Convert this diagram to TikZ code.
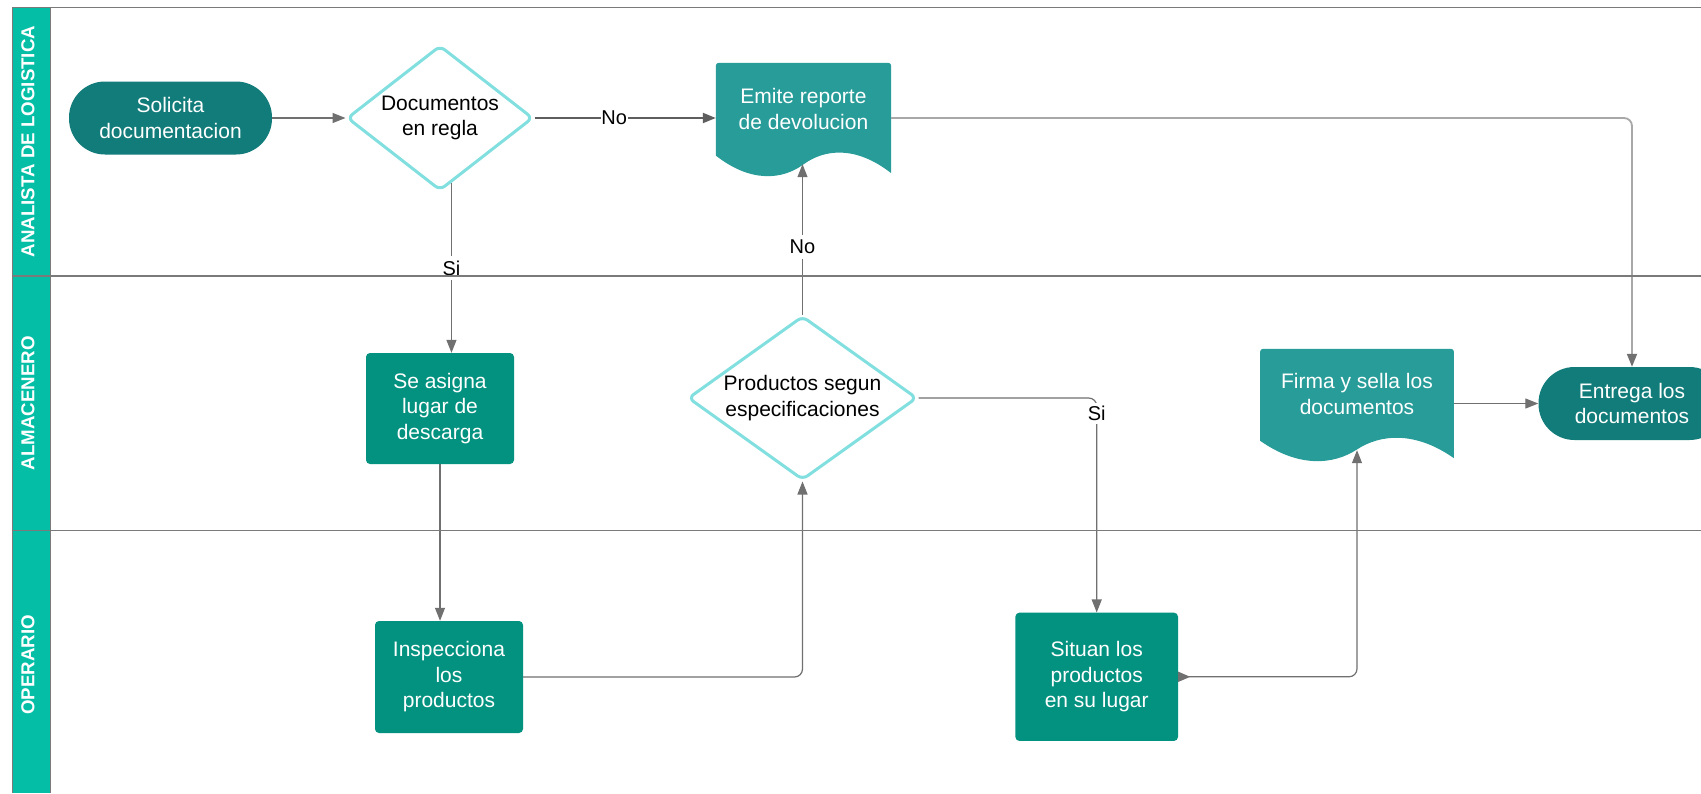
\documentclass[tikz,border=0pt]{standalone}
\usepackage{fontspec}
\setmainfont{Liberation Sans}
\newfontfamily\headfont{Liberation Sans Bold}
\usetikzlibrary{shapes.geometric,arrows.meta,calc}
\definecolor{lanehead}{HTML}{04BFA6}
\definecolor{termfill}{HTML}{117C79}
\definecolor{docfill}{HTML}{289C99}
\definecolor{procfill}{HTML}{049280}
\definecolor{decborder}{HTML}{82DFE0}
\definecolor{linegray}{HTML}{707070}
\definecolor{darkline}{HTML}{5E5E5E}
\definecolor{lightline}{HTML}{A8A8A8}
\definecolor{lanegray}{HTML}{7A7A7A}
\pgfdeclarelayer{bg}
\pgfdeclarelayer{fg}
\pgfsetlayers{bg,main,fg}
\newcommand\docshape[1]{%
 \begin{pgfonlayer}{bg}
 \fill[docfill] let \p1=(#1.north west), \p2=(#1.south east), \n1={\x2-\x1}, \n2={\y1-\y2} in
 (\x1,\y2+0.16*\n2) [rounded corners=3pt] -- (\x1,\y1) -- (\x2,\y1) [sharp corners] -- (\x2,\y2)
 .. controls (\x1+0.8*\n1,\y2+0.25*\n2) and (\x1+0.62*\n1,\y2+0.22*\n2) .. (\x1+0.5*\n1,\y2+0.08*\n2)
 .. controls (\x1+0.38*\n1,\y2-0.06*\n2) and (\x1+0.2*\n1,\y2-0.09*\n2) .. (\x1,\y2+0.16*\n2) -- cycle;
 \end{pgfonlayer}}
\newcommand\uptext[2]{\raisebox{#1}[\height][\depth]{\begin{tabular}{@{}c@{}}#2\end{tabular}}}
\tikzset{
 txt/.style={font=\fontsize{21}{25.5}\selectfont, align=center, inner sep=0pt},
 terminal/.style={txt, text=white, fill=termfill, rounded corners=36pt, minimum height=73pt},
 process/.style={txt, text=white, fill=procfill, rounded corners=4pt},
 document/.style={txt, text=white},
 decision/.style={txt, text=black, shape=diamond, draw=decborder, line width=3pt, fill=white, rounded corners=6pt},
 lanetitle/.style={font=\headfont\fontsize{18.7}{22}\selectfont, text=white, rotate=90, inner sep=0pt},
 conn/.style={draw=linegray, line width=1.2pt, -{Triangle[length=13pt,width=10pt]}},
 lbl/.style={font=\fontsize{20}{24}\selectfont, fill=white, text=black, inner xsep=1pt, inner ysep=5pt},
 laneline/.style={draw=lanegray, line width=1.5pt}
}
\begin{document}
\begin{tikzpicture}[x=1pt,y=-1pt]
\useasboundingbox (0,0) rectangle (1701,793);
\clip (0,0) rectangle (1701,793);
% lane header
\begin{pgfonlayer}{bg}
\fill[white] (0,0) rectangle (1701,793);
\fill[lanehead] (12.3,7.5) rectangle (50,793);
\draw[lanegray, line width=1pt] (12.3,7.5) -- (12.3,793) (50,7.5) -- (50,793);
\end{pgfonlayer}
\node[lanetitle] (h1) at (28,141.5) {ANALISTA DE LOGISTICA};
\node[lanetitle] (h2) at (28,403) {ALMACENERO};
\node[lanetitle] (h3) at (28,665) {OPERARIO};
\begin{pgfonlayer}{fg}
\draw[laneline] (12.3,7.5) -- (1701,7.5);
\draw[laneline] (12.3,276) -- (1701,276);
\draw[laneline] (12.3,530.5) -- (1701,530.5);
\end{pgfonlayer}

% nodes
\node[terminal, minimum width=203pt] (solicita) at (170.5,118) {Solicita\\documentacion};
\node[decision, aspect=1.29, minimum width=186pt, minimum height=145pt] (doc1) at (440,118) {Documentos\\en regla};
\node[document, minimum width=175pt, minimum height=110pt] (emite) at (803.5,118) {\uptext{6.5pt}{Emite reporte\\de devolucion}};
\docshape{emite}
\node[process, minimum width=148pt, minimum height=111pt] (seasigna) at (440,408.5) {Se asigna\\lugar de\\descarga};
\node[decision, aspect=1.41, minimum width=229pt, minimum height=164pt] (prod) at (802.5,398) {Productos segun\\especificaciones};
\node[document, minimum width=193.5pt, minimum height=109pt] (firma) at (1357,403.5) {\uptext{7pt}{Firma y sella los\\documentos}};
\docshape{firma}
\node[terminal, minimum width=187pt] (entrega) at (1632,403.5) {Entrega los\\documentos};
\node[process, minimum width=148pt, minimum height=112pt] (inspecciona) at (449,677) {Inspecciona\\los\\productos};
\node[process, minimum width=162.6pt, minimum height=128.3pt] (situan) at (1096.7,676.8) {Situan los\\productos\\en su lugar};

\coordinate (emitein) at ([yshift=9pt]emite.south);
\coordinate (firmain) at ([yshift=8pt]firma.south);

% connectors
\draw[conn] (solicita.east) -- (doc1.west);
\draw[conn, draw=darkline, line width=2pt] (doc1.east) -- (emite.west) node[lbl, pos=0.44, inner xsep=0.5pt] {No};
\draw[conn] (doc1.-80) -- (doc1.-80 |- seasigna.north) node[lbl, pos=0.5] {Si};
\draw[conn] (seasigna.south) -- (seasigna.south |- inspecciona.north);
\draw[conn, rounded corners=8pt] (inspecciona.east) -| (prod.south);
\draw[conn] (prod.north) -- (prod.north |- emitein) node[lbl, pos=0.45] {No};
\draw[conn, rounded corners=8pt] (prod.east) -| (situan.north) node[lbl, pos=0.536, inner ysep=3pt] {Si};
\draw[conn, {Triangle[reversed,length=12pt,width=10pt]}-{Triangle[length=13pt,width=10pt]}, rounded corners=8pt] (situan.east) -| (firmain);
\draw[conn] (firma.east) -- (entrega.west);
\draw[conn, draw=lightline, line width=1.8pt, -{Triangle[length=13pt,width=10pt,color=linegray]}, rounded corners=8pt] (emite.east) -| (entrega.north);
\end{tikzpicture}
\end{document}
